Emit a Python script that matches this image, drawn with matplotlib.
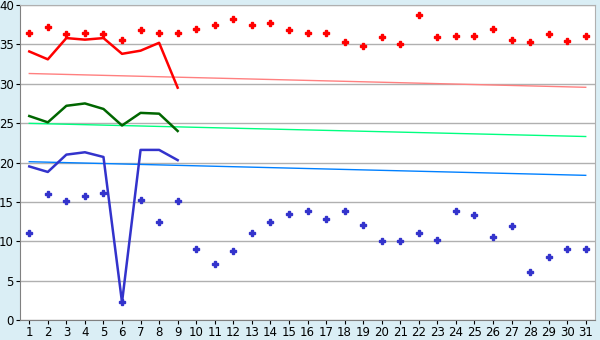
import numpy as np
import matplotlib
matplotlib.use("Agg")
import matplotlib.pyplot as plt

days = list(range(1, 32))

# scattered daily points
red_pts = [36.5, 37.2, 36.3, 36.4, 36.3, 35.6, 36.8, 36.4, 36.4, 37.0,
           37.5, 38.2, 37.5, 37.7, 36.8, 36.5, 36.5, 35.3, 34.8, 36.0,
           35.0, 38.7, 36.0, 36.1, 36.1, 37.0, 35.5, 35.3, 36.3, 35.4, 36.1]
blue_pts = [11.0, 16.0, 15.1, 15.8, 16.1, 2.25, 15.3, 12.4, 15.1, 9.0,
            7.1, 8.7, 11.0, 12.5, 13.5, 13.9, 12.8, 13.9, 12.1, 10.0,
            10.0, 11.0, 10.1, 13.9, 13.3, 10.5, 11.9, 6.05, 8.0, 9.0, 9.0]

# lines for days 1-9
line_days = list(range(1, 10))
red_line = [34.1, 33.1, 35.8, 35.6, 35.8, 33.8, 34.2, 35.2, 29.5]
green_line = [25.9, 25.1, 27.2, 27.5, 26.8, 24.7, 26.3, 26.2, 24.0]
blue_line = [19.5, 18.8, 21.0, 21.3, 20.7, 2.25, 21.6, 21.6, 20.3]

# trend lines (start, end)
trend_ends = [1, 31]
red_trend = [31.3, 29.55]
green_trend = [24.97, 23.3]
blue_trend = [20.1, 18.37]

fig = plt.figure(figsize=(6, 3.4), dpi=100)
fig.patch.set_facecolor('#daeef5')
ax = fig.add_axes([20/600, 1-320/340, 575/600, 315/340])
ax.set_facecolor('white')

ax.plot(trend_ends, red_trend, color='#ff8080', lw=1)
ax.plot(trend_ends, green_trend, color='#00ff80', lw=1)
ax.plot(trend_ends, blue_trend, color='#0080ff', lw=1)

ax.plot(line_days, red_line, color='#ff0000', lw=1.8)
ax.plot(line_days, green_line, color='#006600', lw=1.8)
ax.plot(line_days, blue_line, color='#3333cc', lw=1.8)

ax.plot(days, red_pts, ls='none', marker='P', ms=4, color='#ff0000', mew=1)
ax.plot(days, blue_pts, ls='none', marker='P', ms=4, color='#3333cc', mew=1)

ax.set_xlim(0.5, 31.5)
ax.set_ylim(0, 40)
ax.set_xticks(days)
ax.set_yticks(range(0, 41, 5))
ax.yaxis.grid(True, color='#b0b0b0', lw=1)
ax.set_axisbelow(True)
ax.tick_params(labelsize=8.5, length=3, direction='out', color='black', pad=1.5)
for s in ['top', 'right']:
    ax.spines[s].set_color('#b0b0b0')
for s in ['left', 'bottom']:
    ax.spines[s].set_color('#808080')

fig.savefig('out.png', dpi=100, facecolor=fig.get_facecolor())
